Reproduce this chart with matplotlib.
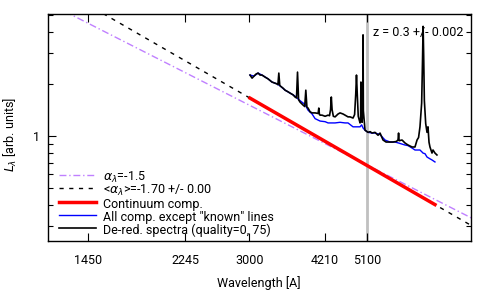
import matplotlib
matplotlib.use("Agg")
import matplotlib.pyplot as plt
import numpy as np

plt.rcParams['font.family'] = ['Roboto', 'DejaVu Sans']
plt.rcParams['mathtext.fontset'] = 'dejavusans'

# ---- data ----
xticks = [1450, 2245, 3000, 4210, 5100]
norm_wl = 5100.0
alpha_fixed = -1.5
alpha_fit = -1.70
norm_fixed = 0.68
norm_fit = 0.675
line_range = [1150, 8500]
cont_range = [3009, 6923]
redshift_text = "z = 0.3 +/- 0.002"

spec_wl = [3009, 3037, 3064, 3092, 3120, 3148, 3176, 3220, 3263, 3322, 3368, 3398,
           3412, 3426, 3440, 3445, 3492, 3524, 3572, 3604, 3653, 3686, 3710, 3727,
           3745, 3770, 3821, 3850, 3869, 3888, 3908, 3944, 3980, 4034, 4090, 4102,
           4114, 4126, 4162, 4220, 4277, 4305, 4325, 4340, 4355, 4380, 4414, 4474,
           4514, 4576, 4617, 4679, 4722, 4786, 4820, 4845, 4861, 4878, 4900, 4940,
           4952, 4959, 4966, 4985, 5000, 5007, 5014, 5052, 5121, 5170, 5213, 5284,
           5357, 5405, 5479, 5554, 5654, 5731, 5820, 5862, 5876, 5890, 5969, 6049,
           6132, 6244, 6327, 6386, 6430, 6471, 6520, 6545, 6563, 6580, 6600, 6640,
           6679, 6709, 6740, 6769, 6831, 6862, 6923, 6985]
spec_L = [2.25, 2.16, 2.22, 2.28, 2.31, 2.25, 2.25, 2.19, 2.14, 2.05, 2.02, 2.00,
          1.98, 2.31, 1.97, 1.95, 1.89, 1.84, 1.80, 1.77, 1.73, 1.68, 1.66, 2.34,
          1.62, 1.57, 1.51, 1.48, 1.84, 1.47, 1.45, 1.38, 1.36, 1.36, 1.35, 1.45,
          1.33, 1.32, 1.32, 1.30, 1.32, 1.31, 1.42, 1.68, 1.42, 1.30, 1.29, 1.34,
          1.36, 1.34, 1.32, 1.29, 1.29, 1.27, 1.33, 1.75, 2.25, 1.75, 1.30, 1.19,
          1.25, 2.05, 1.30, 1.20, 1.40, 3.84, 1.40, 1.08, 1.05, 1.06, 1.04, 1.05,
          1.01, 1.04, 0.948, 0.923, 0.923, 0.923, 0.93, 0.95, 1.04, 0.94, 0.948, 0.911,
          0.887, 0.864, 0.864, 0.948, 0.98, 1.13, 1.55, 2.7, 4.3, 2.9, 1.6, 1.18,
          1.05, 1.13, 0.92, 0.864, 0.797, 0.830, 0.797, 0.777]

comp_wl = [3009, 3064, 3120, 3176, 3263, 3322, 3398, 3445, 3524, 3604, 3686, 3770,
           3856, 3908, 3980, 4034, 4126, 4220, 4277, 4414, 4514, 4617, 4679, 4786,
           4940, 4975, 5010, 5052, 5121, 5213, 5284, 5405, 5528, 5654, 5782, 5876,
           6049, 6132, 6244, 6327, 6471, 6531, 6560, 6620, 6679, 6760, 6831, 6923]
comp_L = [2.25, 2.22, 2.31, 2.25, 2.14, 2.05, 2.00, 1.95, 1.84, 1.77, 1.70, 1.60,
          1.52, 1.41, 1.34, 1.26, 1.22, 1.21, 1.19, 1.19, 1.20, 1.19, 1.19, 1.13,
          1.13, 1.16, 1.11, 1.08, 1.05, 1.04, 1.04, 1.02, 0.948, 0.923, 0.923, 0.911,
          0.887, 0.880, 0.852, 0.830, 0.830, 0.808, 0.797, 0.79, 0.756, 0.74, 0.727, 0.708]

legend_labels = [r'$\alpha_\lambda$=-1.5',
                 r'<$\alpha_\lambda$>=-1.70 +/- 0.00',
                 'Continuum comp.',
                 'All comp. except "known" lines',
                 'De-red. spectra (quality=0, 75)']

FS = 9

# ---- figure ----
fig = plt.figure(figsize=(4.91, 2.94), dpi=100)
ax = fig.add_axes([48/491, 1-240.5/294, (470.5-48)/491, (240.5-14)/294])

lw_full = np.geomspace(line_range[0], line_range[1], 50)
cw = np.geomspace(cont_range[0], cont_range[1], 50)

ax.axvline(norm_wl, color='#c0c0c0', lw=2, zorder=1)
ax.plot(lw_full, norm_fixed*(lw_full/norm_wl)**alpha_fixed, color='#c080ff', lw=1,
        ls=(0, (5, 2, 1, 2)), label=legend_labels[0], zorder=2)
ax.plot(lw_full, norm_fit*(lw_full/norm_wl)**alpha_fit, color='black', lw=1,
        ls=(0, (3, 4)), label=legend_labels[1], zorder=2)
ax.plot(cw, norm_fit*(cw/norm_wl)**alpha_fit, color='#ff0000', lw=2.5,
        label=legend_labels[2], zorder=3)
ax.plot(comp_wl, comp_L, color='#0000ff', lw=1, label=legend_labels[3], zorder=4)
ax.plot(spec_wl, spec_L, color='black', lw=1.2, label=legend_labels[4], zorder=5)

ax.set_xscale('log')
ax.set_yscale('log')
ax.set_xlim(1211, 8125)
ax.set_ylim(0.249, 5.07)

ax.set_xticks(xticks)
ax.set_xticklabels([str(t) for t in xticks])
ax.xaxis.set_minor_locator(matplotlib.ticker.NullLocator())
ax.set_yticks([1])
ax.set_yticklabels(['1'])
ax.yaxis.set_minor_locator(matplotlib.ticker.LogLocator(base=10, subs=np.arange(2, 10)))
ax.yaxis.set_minor_formatter(matplotlib.ticker.NullFormatter())
ax.tick_params(which='both', direction='in', top=True, right=True, labelsize=FS,
               width=0.8, colors='black')
ax.tick_params(which='major', length=6, pad=10)
ax.tick_params(which='minor', length=3.5)
ax.tick_params(axis='y', which='major', pad=6)

for s in ax.spines.values():
    s.set_linewidth(1.0)

ax.set_xlabel('Wavelength [A]', fontsize=FS, labelpad=6)
ax.set_ylabel(r'$L_\lambda$ [arb. units]', fontsize=FS)
ax.yaxis.set_label_coords(-0.068, 0.47)

ax.text(0.982, 0.92, redshift_text, transform=ax.transAxes, ha='right', va='center',
        fontsize=FS)

leg = ax.legend(loc='lower left', frameon=False, fontsize=FS, handlelength=3.0,
                handleheight=1.5, handletextpad=0.55, labelspacing=-0.18,
                borderaxespad=0.0, borderpad=0.0, bbox_to_anchor=(0.025, 0.015))

fig.savefig('out.png', dpi=100)
